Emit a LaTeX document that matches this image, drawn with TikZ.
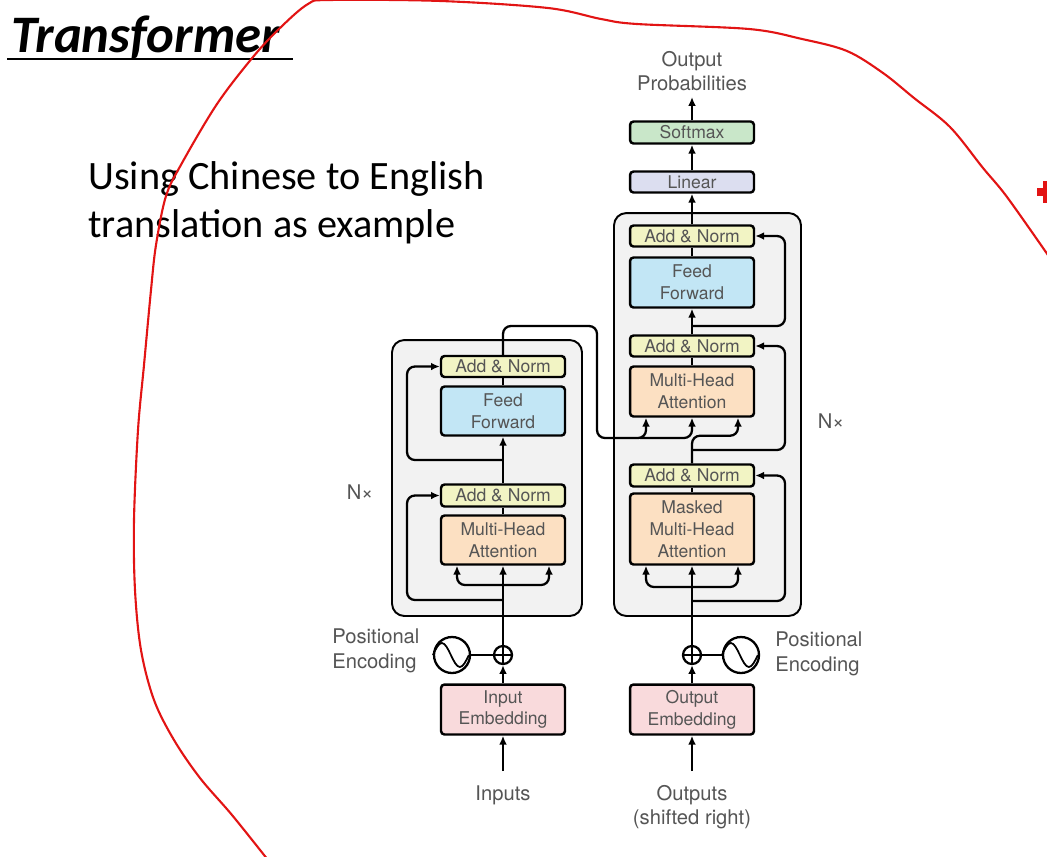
\documentclass[tikz,border=0pt]{standalone}
\usepackage{fontspec}
\setmainfont{Carlito}
\newfontfamily\heros{TeX Gyre Heros}
\usetikzlibrary{arrows.meta,calc}
\definecolor{addc}{HTML}{F2F4C4}
\definecolor{ffc}{HTML}{C2E6F5}
\definecolor{mhac}{HTML}{FCE0C2}
\definecolor{embc}{HTML}{F9DADC}
\definecolor{linc}{HTML}{DCDEF0}
\definecolor{softc}{HTML}{C9E7C9}
\definecolor{bgc}{HTML}{F2F2F2}
\definecolor{txtc}{HTML}{555555}
\definecolor{redc}{RGB}{226,20,20}
\begin{document}
\begin{tikzpicture}[x=0.02cm,y=-0.02cm,
  lbl/.style={font=\heros\fontsize{11.5}{14}\selectfont, text=txtc, align=center, inner sep=0pt},
  blk/.style={draw=black, line width=1.4pt, rounded corners=2pt, minimum width=2.48cm, font=\heros\fontsize{10}{12.5}\selectfont, text=txtc, align=center, inner sep=0pt},
  conn/.style={line width=1.3pt},
  arr/.style={conn, -{Latex[length=5pt,width=4.4pt]}},
  rc/.style={rounded corners=4.5pt},
  outerbox/.style={draw, line width=1.1pt, fill=bgc, rounded corners=7pt, inner sep=0pt},
  sinebox/.style={circle, draw, line width=1.3pt, minimum size=0.72cm, inner sep=0pt},
  plusbox/.style={circle, draw, line width=1.3pt, minimum size=0.36cm, inner sep=0pt,
    path picture={\draw[line width=1pt] (path picture bounding box.north) -- (path picture bounding box.south) (path picture bounding box.west) -- (path picture bounding box.east);}},
]
\useasboundingbox (0,0) rectangle (1047,856);
\clip (0,0) rectangle (1047,856);

% title and text
\node[anchor=base west, inner sep=0pt, font=\bfseries\itshape\fontsize{30}{35}\selectfont] (title) at (11,52) {Transformer};
\draw[line width=1.1pt] (7,59) -- (293,59);
\node[anchor=base west, inner sep=0pt, font=\fontsize{22.9}{27}\selectfont] (t1) at (88,189) {Using Chinese to English};
\node[anchor=base west, inner sep=0pt, font=\fontsize{22.9}{27}\selectfont] (t2) at (88,237) {translation as example};

% outer boxes
\node[outerbox, minimum width=3.8cm, minimum height=5.52cm] (encbox) at (487,478) {};
\node[outerbox, minimum width=3.74cm, minimum height=8.06cm] (decbox) at (707.5,414.5) {};

% encoder
\node[blk, fill=addc, minimum height=0.42cm] (eadd2) at (503,366.5) {Add \& Norm};
\node[blk, fill=ffc, minimum height=0.98cm] (eff) at (503,411) {Feed\\Forward};
\node[blk, fill=addc, minimum height=0.44cm] (eadd1) at (503,495.5) {Add \& Norm};
\node[blk, fill=mhac, minimum height=0.98cm] (emha) at (503,540) {Multi-Head\\Attention};
\node[blk, fill=embc, minimum height=1.0cm] (iemb) at (503,709.5) {Input\\Embedding};
\node[plusbox] (eplus) at (503,655) {};
\node[sinebox] (esin) at (452,655) {};
\draw[line width=1pt] (esin.west) sin ++(9,-12) cos ++(9,12) sin ++(9,12) cos ++(9,-12);

% decoder
\node[blk, fill=addc, minimum height=0.42cm] (dadd3) at (692,236) {Add \& Norm};
\node[blk, fill=ffc, minimum height=1.0cm] (dff) at (692,282.5) {Feed\\Forward};
\node[blk, fill=addc, minimum height=0.42cm] (dadd2) at (692,346) {Add \& Norm};
\node[blk, fill=mhac, minimum height=1.0cm] (dmha) at (692,391.5) {Multi-Head\\Attention};
\node[blk, fill=addc, minimum height=0.44cm] (dadd1) at (692,475.5) {Add \& Norm};
\node[blk, fill=mhac, minimum height=1.42cm] (dmmha) at (692,529) {Masked\\Multi-Head\\Attention};
\node[blk, fill=embc, minimum height=1.0cm] (oemb) at (692,709.5) {Output\\Embedding};
\node[blk, fill=linc, minimum height=0.42cm] (lin) at (692,182) {Linear};
\node[blk, fill=softc, minimum height=0.44cm] (soft) at (692,132.5) {Softmax};
\node[plusbox] (dplus) at (692,655) {};
\node[sinebox] (dsin) at (741,655) {};
\draw[line width=1pt] (dsin.west) sin ++(9,-12) cos ++(9,12) sin ++(9,12) cos ++(9,-12);

% labels
\node[lbl] (outprob) at (692,71) {Output\\Probabilities};
\node[lbl] (inputs) at (503,795) {Inputs};
\node[lbl] (outputs) at (692,807) {Outputs\\(shifted right)};
\node[lbl, anchor=west, align=left] (epos) at (332,651) {Positional\\Encoding};
\node[lbl, anchor=west, align=left] (dpos) at (775,654) {Positional\\Encoding};
\node[lbl] (enx) at (360,492) {N×};
\node[lbl] (dnx) at (831,421) {N×};

% coordinates
\coordinate (inS) at (503,771);
\coordinate (outS) at (692,771);
\coordinate (probE) at (692,97);
\coordinate (elx) at (407,0);
\coordinate (drx) at (785,0);
\coordinate (ebr) at (503,585);
\coordinate (eres1) at (503,600);
\coordinate (eres2) at (503,460);
\coordinate (dbr) at (692,587);
\coordinate (dres1) at (692,601);
\coordinate (dres2) at (692,450);
\coordinate (dres3) at (692,326);
\coordinate (cx1) at (597,326);
\coordinate (cx2) at (597,438);
\coordinate (cx3) at (640,438);

% encoder connectors
\draw[arr] (inS) -- (iemb.south);
\draw[arr] (iemb.north) -- (eplus.south);
\draw[conn] (esin.east) -- (eplus.west);
\draw[arr] (eplus.north) -- (emha.south);
\draw[arr,rc] (ebr) -| ($(emha.south)+(-46,0)$);
\draw[arr,rc] (ebr) -| ($(emha.south)+(46,0)$);
\draw[arr,rc] (eres1) -| (eadd1.west -| elx) -- (eadd1.west);
\draw[conn] (emha.north) -- (eadd1.south);
\draw[arr] (eadd1.north) -- (eff.south);
\draw[arr,rc] (eres2) -| (eadd2.west -| elx) -- (eadd2.west);
\draw[conn] (eff.north) -- (eadd2.south);
\draw[arr,rc] (eadd2.north) |- (cx1) -- (cx2) -| ($(dmha.south)+(-46,0)$);
\draw[arr,rc] (cx3) -| (dmha.south);

% decoder connectors
\draw[arr] (outS) -- (oemb.south);
\draw[arr] (oemb.north) -- (dplus.south);
\draw[conn] (dplus.east) -- (dsin.west);
\draw[arr] (dplus.north) -- (dmmha.south);
\draw[arr,rc] (dbr) -| ($(dmmha.south)+(-46,0)$);
\draw[arr,rc] (dbr) -| ($(dmmha.south)+(46,0)$);
\draw[arr,rc] (dres1) -| (dadd1.east -| drx) -- (dadd1.east);
\draw[conn] (dmmha.north) -- (dadd1.south);
\draw[arr,rc] (dadd1.north) |- ($(dmha.south)+(46,18)$) -- ($(dmha.south)+(46,0)$);
\draw[arr,rc] (dres2) -| (dadd2.east -| drx) -- (dadd2.east);
\draw[conn] (dmha.north) -- (dadd2.south);
\draw[arr] (dadd2.north) -- (dff.south);
\draw[arr,rc] (dres3) -| (dadd3.east -| drx) -- (dadd3.east);
\draw[conn] (dff.north) -- (dadd3.south);
\draw[arr] (dadd3.north) -- (lin.south);
\draw[arr] (lin.north) -- (soft.south);
\draw[arr] (soft.north) -- (probE);

% red annotation
\draw[redc, line width=1.2pt, line cap=round] plot[smooth, tension=0.55] coordinates {
 (268,860) (232,815) (200,778) (174,740) (154,700) (141,650) (135,590)
 (134,520) (138,430) (144,365) (151,290) (156,245) (166,196) (182,163) (217,104)
 (253,57) (280,28) (308,4) (330,0) (441,1) (548,8) (601,19) (637,24) (749,29)
 (802,39) (847,51) (883,73) (914,98) (950,127) (983,168) (1007,197) (1050,258)};
\draw[redc, line width=4pt] (1037,192) -- (1056,192);
\draw[redc, line width=3.4pt] (1046,181) -- (1046,203);
\end{tikzpicture}
\end{document}
